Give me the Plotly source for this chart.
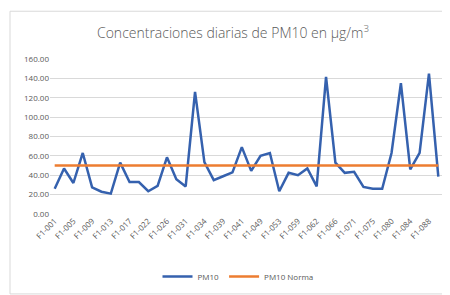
import plotly.graph_objects as go

categories = ["F1-001", "F1-003", "F1-005", "F1-007", "F1-009", "F1-011", "F1-013", "F1-015",
              "F1-017", "F1-020", "F1-022", "F1-024", "F1-026", "F1-029", "F1-031", "F1-032",
              "F1-034", "F1-036", "F1-039", "F1-040", "F1-041", "F1-045", "F1-049", "F1-051",
              "F1-053", "F1-056", "F1-059", "F1-060", "F1-062", "F1-064", "F1-066", "F1-069",
              "F1-071", "F1-073", "F1-075", "F1-078", "F1-080", "F1-082", "F1-084", "F1-086",
              "F1-088", "F1-090"]
pm10 = [26, 47, 32, 63, 27.5, 23, 21, 53, 33, 33, 23.5, 29, 58.5, 36, 28.5, 126, 53.5, 35, 39, 43, 69,
        44.5, 60, 63, 23.5, 42.5, 40, 47, 28.5, 141.5, 53, 42.5, 43.5, 28, 26, 26, 63, 135, 46, 63, 145, 38.5]
norma = [50] * len(categories)
tick_labels = categories[::2]
y_ticks = [0, 20, 40, 60, 80, 100, 120, 140, 160]

fig = go.Figure()
fig.add_trace(go.Scatter(x=categories, y=pm10, mode="lines", name="PM10",
                         line=dict(color="#3561ae", width=2.5)))
fig.add_trace(go.Scatter(x=categories, y=norma, mode="lines", name="PM10 Norma",
                         line=dict(color="#ed7d31", width=2.5)))

L, R, T, B = 42, 15, 51, 85
W, H = 450, 295
pw, ph = W - L - R, H - T - B

def px_x(p):
    return (p - L) / pw

def px_y(p):
    return (H - B - p) / ph

fig.update_layout(
    width=W, height=H,
    margin=dict(l=L, r=R, t=T, b=B),
    paper_bgcolor="white", plot_bgcolor="white",
    font=dict(family="Open Sans", color="#595959"),
    title=dict(text="Concentraciones diarias de PM10 en μg/m<sup>3</sup>",
               x=0.5, xanchor="center", y=1 - 25 / H, yanchor="middle",
               font=dict(size=14, color="#595959", family="Open Sans", weight=300)),
    xaxis=dict(type="category", tickmode="array", tickvals=tick_labels, ticktext=tick_labels,
               tickangle=-45, tickfont=dict(size=8, color="#595959"),
               showgrid=False, showline=False, ticks="", range=[-0.5, len(categories) - 0.5]),
    yaxis=dict(range=[0, 160], tickvals=y_ticks, tickformat=".2f",
               tickfont=dict(size=8, color="#595959"),
               showgrid=True, gridcolor="#d9d9d9", gridwidth=1, zeroline=False,
               showline=False, ticks=""),
    legend=dict(orientation="h", x=px_x(230), xanchor="center", y=px_y(274), yanchor="middle",
                font=dict(size=8, color="#595959"), bgcolor="rgba(0,0,0,0)",
                itemwidth=30, tracegroupgap=0),
    showlegend=True,
    shapes=[dict(type="rect", xref="paper", yref="paper",
                 x0=px_x(2), x1=px_x(447), y0=px_y(292), y1=px_y(2),
                 line=dict(color="#d9d9d9", width=1), layer="below")],
)

fig.write_html("out.html")
